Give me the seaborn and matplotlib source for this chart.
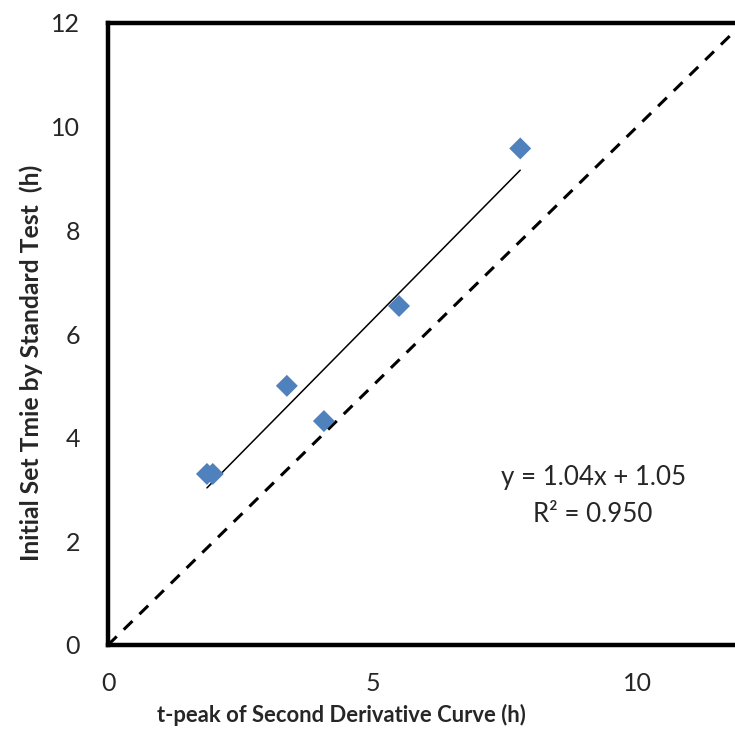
import numpy as np
import pandas as pd
import matplotlib
matplotlib.use("Agg")
import matplotlib.pyplot as plt
import seaborn as sns
from matplotlib.ticker import MultipleLocator

# data
t_peak = [1.87, 1.98, 3.38, 4.08, 5.50, 7.79]
set_time = [3.30, 3.30, 5.00, 4.32, 6.54, 9.58]

x_ticks = [0, 5, 10]
y_ticks = [0, 2, 4, 6, 8, 10, 12]
diag = [0, 12]

fit_text = "y = 1.04x + 1.05\nR² = 0.950"

df = pd.DataFrame({"t_peak": t_peak, "set_time": set_time})

sns.set_style("white")
plt.rcParams["font.family"] = ["Lato", "DejaVu Sans"]

fig = plt.figure(figsize=(7.35, 7.30), dpi=100)
ax = fig.add_axes([108 / 735, 85 / 730, 635 / 735, 622 / 730])

# 1:1 line
ax.plot(diag, diag, color="black", lw=2.2, ls=(0, (4, 3.2)), zorder=1)

sns.regplot(
    data=df, x="t_peak", y="set_time", ax=ax,
    scatter=False, ci=None, truncate=True,
    line_kws={"color": "black", "lw": 1.1}
)

sns.scatterplot(
    data=df, x="t_peak", y="set_time", ax=ax,
    marker="D", s=125, color="#4F81BD", edgecolor="none", zorder=3
)

ax.set_xlim(0, 12)
ax.set_ylim(0, 12)
ax.set_xticks(x_ticks)
ax.set_yticks(y_ticks)
ax.xaxis.set_minor_locator(MultipleLocator(1))

for side in ["left", "bottom", "top", "right"]:
    ax.spines[side].set_linewidth(3.2)
    ax.spines[side].set_color("black")

ax.tick_params(axis="x", which="major", direction="inout", length=11, width=3,
               labelsize=18, pad=14)
ax.tick_params(axis="x", which="minor", direction="in", length=6, width=3)
ax.tick_params(axis="y", which="major", direction="in", length=7, width=3,
               labelsize=18, pad=20)

ax.set_xlabel("t-peak of Second Derivative Curve (h)", fontsize=15.8, fontweight="bold")
ax.set_ylabel("Initial Set Tmie by Standard Test  (h)", fontsize=17.8, fontweight="bold")
ax.xaxis.set_label_coords(0.367, -0.094)
ax.yaxis.set_label_coords(-0.102, 0.454)

ax.text(0.764, 0.239, fit_text, transform=ax.transAxes, ha="center", va="center",
        fontsize=18.6, linespacing=1.6)

fig.savefig("out.png", dpi=100)
